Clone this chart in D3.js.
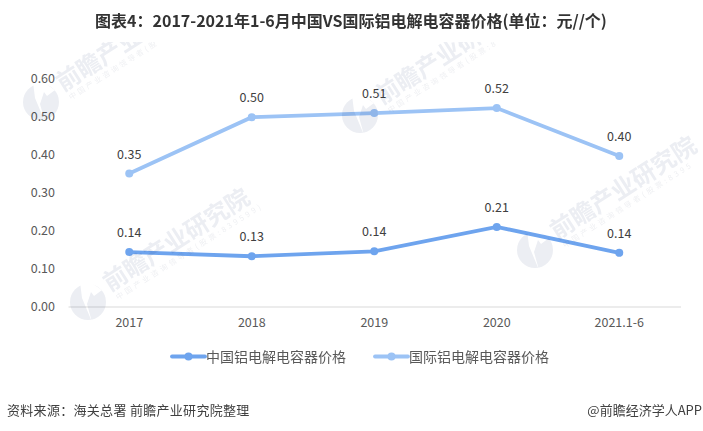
<!DOCTYPE html>
<html>
<head>
<meta charset="utf-8">
<script src="https://cdn.jsdelivr.net/npm/d3@7"></script>
<style>
body { margin: 0; background: #fff; }
text { font-family: "Noto Sans CJK SC", sans-serif; }
</style>
</head>
<body>
<div id="chart"></div>
<script>
var categories = ["2017", "2018", "2019", "2020", "2021.1-6"];
var chinaPrice = [0.143, 0.132, 0.145, 0.209, 0.141];
var chinaLabels = ["0.14", "0.13", "0.14", "0.21", "0.14"];
var intlPrice = [0.349, 0.497, 0.508, 0.521, 0.395];
var intlLabels = ["0.35", "0.50", "0.51", "0.52", "0.40"];
var yTicks = [0, 0.1, 0.2, 0.3, 0.4, 0.5, 0.6];
var chinaName = "中国铝电解电容器价格";
var intlName = "国际铝电解电容器价格";
var titleText = "图表4：2017-2021年1-6月中国VS国际铝电解电容器价格(单位：元//个)";
var sourceText = "资料来源：海关总署 前瞻产业研究院整理";
var brandText = "@前瞻经济学人APP";
// logo position and visible text of each watermark
var marks = [
    [41, 102, "前瞻产业", "中国产业咨询领导者(股", 102],
    [360, 115, "前瞻产业研", "中国产业咨询领导者(股票:8", 126],
    [88, 302, "前瞻产业研究院", "中国产业咨询领导者(股票:839599)", 170],
    [535, 250, "前瞻产业研究院", "中国产业咨询领导者(股票:8395", 150]
];

var width = 703, height = 431;
var chinaColor = "#6ea4ee", intlColor = "#9cc3f5", markColor = "#eceef3";

var svg = d3.select("#chart").append("svg")
    .attr("width", width)
    .attr("height", height);

var x = d3.scaleBand().domain(categories).range([68, 680.5]);
var y = d3.scaleLinear().domain([0, 0.6]).range([306.5, 78]);

svg.append("clipPath").attr("id", "markClip").append("rect")
    .attr("x", 0).attr("y", 42).attr("width", width).attr("height", height - 42);

// axis line and labels
var xAxis = svg.append("g").attr("transform", "translate(0,306.5)")
    .call(d3.axisBottom(x).tickSize(0).tickPadding(12));
xAxis.select(".domain").attr("stroke", "#d9d9d9").attr("stroke-width", 1);
xAxis.selectAll("text").attr("font-size", 12.5).attr("fill", "#595959");

var yAxis = svg.append("g").attr("transform", "translate(68,0)")
    .call(d3.axisLeft(y).tickValues(yTicks).tickFormat(d3.format(".2f")).tickSize(0).tickPadding(13));
yAxis.select(".domain").remove();
yAxis.selectAll("text").attr("font-size", 12.5).attr("fill", "#595959");

var line = d3.line()
    .x(function (d, i) { return x(categories[i]) + x.bandwidth() / 2; })
    .y(function (d) { return y(d); });

function drawSeries(values, labels, color) {
    svg.append("path").datum(values)
        .attr("d", line)
        .attr("fill", "none")
        .attr("stroke", color)
        .attr("stroke-width", 3.8)
        .attr("stroke-linecap", "round");
    svg.selectAll(null).data(values).enter().append("circle")
        .attr("cx", function (d, i) { return x(categories[i]) + x.bandwidth() / 2; })
        .attr("cy", function (d) { return y(d); })
        .attr("r", 4)
        .attr("fill", color);
    svg.selectAll(null).data(values).enter().append("text")
        .attr("x", function (d, i) { return x(categories[i]) + x.bandwidth() / 2; })
        .attr("y", function (d) { return y(d) - 15; })
        .attr("text-anchor", "middle")
        .attr("font-size", 12.5)
        .attr("fill", "#404040")
        .text(function (d, i) { return labels[i]; });
}
drawSeries(intlPrice, intlLabels, intlColor);
drawSeries(chinaPrice, chinaLabels, chinaColor);

// watermarks go over the lines, multiply keeps the lines showing through
var markLayer = svg.append("g").attr("clip-path", "url(#markClip)").style("mix-blend-mode", "multiply");
marks.forEach(function (m) {
    var g = markLayer.append("g").attr("transform", "translate(" + m[0] + "," + m[1] + ")");
    g.append("circle").attr("r", 18).attr("fill", markColor);
    // white swoosh cut out of the logo
    g.append("path").attr("d", "M-8,-20 L2,-20 L14,-12 L6,-6 L3,-10 L-1,2 L4,20 L-6,-4 Z").attr("fill", "#fff");
    g.append("text").attr("transform", "translate(22,-10) rotate(-32.5)")
        .attr("font-size", 24).attr("font-weight", 700).attr("fill", markColor)
        .text(m[2]);
    g.append("text").attr("transform", "translate(30,-2) rotate(-32.5)")
        .attr("font-size", 7.5).attr("fill", "#eff0f3")
        .attr("textLength", m[4]).attr("lengthAdjust", "spacing")
        .text(m[3]);
});

// legend
function drawLegend(lx, name, color) {
    svg.append("line").attr("x1", lx).attr("x2", lx + 33).attr("y1", 356.5).attr("y2", 356.5)
        .attr("stroke", color).attr("stroke-width", 3.8).attr("stroke-linecap", "round");
    svg.append("circle").attr("cx", lx + 16.5).attr("cy", 356.5).attr("r", 4).attr("fill", color);
    svg.append("text").attr("x", lx + 34).attr("y", 362)
        .attr("font-size", 14).attr("fill", "#595959").text(name);
}
drawLegend(172, chinaName, chinaColor);
drawLegend(375, intlName, intlColor);

svg.append("text").attr("x", 351).attr("y", 27).attr("text-anchor", "middle")
    .attr("font-size", 16).attr("font-weight", 700).attr("fill", "#333").text(titleText);
svg.append("text").attr("x", 7).attr("y", 415)
    .attr("font-size", 13).attr("letter-spacing", 0.3).attr("fill", "#404040").text(sourceText);
svg.append("text").attr("x", 702).attr("y", 415).attr("text-anchor", "end")
    .attr("font-size", 13).attr("fill", "#404040").text(brandText);
</script>
</body>
</html>
